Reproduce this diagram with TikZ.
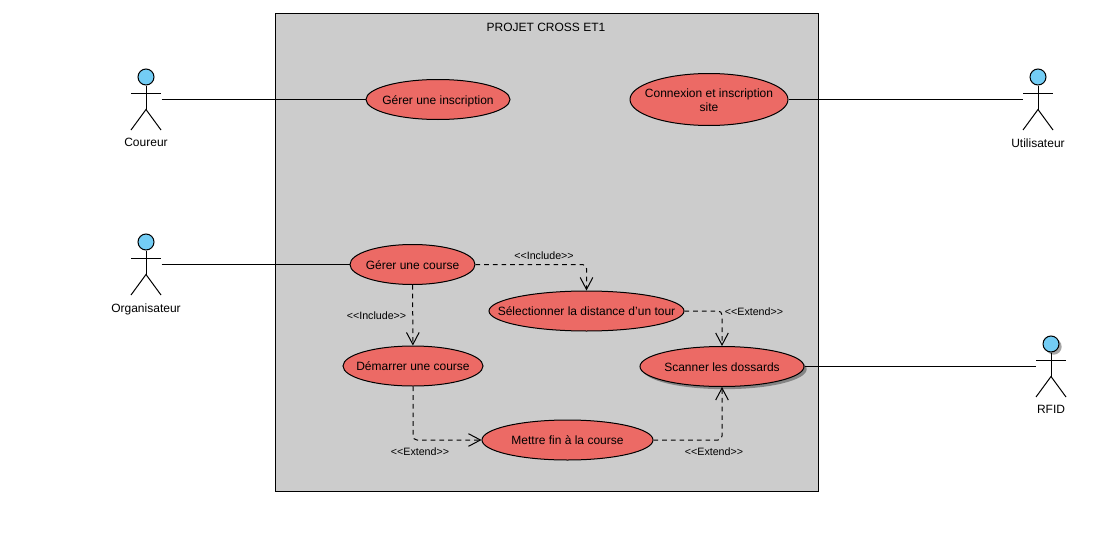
\documentclass[tikz,border=0pt]{standalone}
\usepackage{fontspec}
\setmainfont{Liberation Sans}
\usetikzlibrary{arrows.meta,positioning,shapes.geometric,shadows}
\definecolor{sysgray}{HTML}{CCCCCC}
\definecolor{ucred}{HTML}{EC6A65}
\definecolor{actorblue}{HTML}{73CDF5}
\tikzset{
  usecase/.style={ellipse,draw,fill=ucred,inner sep=0pt,minimum height=30pt,font=\fontsize{9}{10.5}\selectfont},
  actorbox/.style={rectangle,inner sep=0pt,minimum width=22.5pt,minimum height=45.75pt},
  actorhead/.style={circle,draw,fill=actorblue,inner sep=0pt,minimum size=12pt},
  actorlabel/.style={inner sep=0pt,font=\fontsize{9}{10.5}\selectfont},
  steplabel/.style={inner sep=0pt,font=\fontsize{8}{9}\selectfont},
  relation/.style={dashed,dash pattern=on 3.5pt off 3pt,rounded corners=3pt,-{Straight Barb[length=9pt,width=9.5pt]}},
  softshadow/.style={drop shadow={shadow xshift=2pt,shadow yshift=-2pt,fill=black,opacity=0.35}}
}
\newcommand{\uctext}[1]{\raisebox{-3.75pt}[0pt][0pt]{\makebox[0pt]{\begin{tabular}{@{}c@{}}#1\end{tabular}}}}
\newcommand{\stereo}[1]{<{}<#1>{}>}
% name, x, y, label
\newcommand{\actor}[5][]{
  \node[actorbox] (#2) at (#3,#4) {};
  \node[actorhead,#1] (#2head) at (#3,#4-22.5) {};
  \draw (#2head) -- (#3,#4+10);
  \draw (#3-15,#4-6.5) -- (#3+15,#4-6.5);
  \draw (#3-15,#4+30.5) -- (#3,#4+10) -- (#3+15,#4+30.5);
  \node[actorlabel,below=5.5pt of #2] (#2label) {#5};
}
\begin{document}
\begin{tikzpicture}[x=0.75pt,y=-0.75pt,line width=0.75pt]
  \useasboundingbox (0,0) rectangle (1093,539);
  \draw[fill=sysgray] (275,13) rectangle (818,491);
  \node[actorlabel] (title) at (546,27) {PROJET CROSS ET1};

  \node[usecase,minimum width=108pt] (inscription) at (438,99.5) {\uctext{Gérer une inscription}};
  \node[usecase,minimum width=118.5pt,minimum height=39pt] (connexion) at (709,99.5) {\uctext{Connexion et inscription\\site}};
  \node[usecase,minimum width=93.75pt] (course) at (412.5,264.5) {\uctext{Gérer une course}};
  \node[usecase,minimum width=146.25pt] (distance) at (586.5,311) {\uctext{Sélectionner la distance d'un tour}};
  \node[usecase,minimum width=105pt] (demarrer) at (413,366) {\uctext{Démarrer une course}};
  \node[usecase,minimum width=123pt,softshadow] (scanner) at (722,366.5) {\uctext{Scanner les dossards}};
  \node[usecase,minimum width=128.25pt] (fin) at (567.5,440) {\uctext{Mettre fin à la course}};

  \actor{coureur}{146}{99.5}{Coureur}
  \actor{utilisateur}{1038}{99.5}{Utilisateur}
  \actor{organisateur}{146}{264.5}{Organisateur}
  \actor[softshadow]{rfid}{1051}{366.5}{RFID}

  \draw (coureur) -- (inscription);
  \draw (connexion) -- (utilisateur);
  \draw (organisateur) -- (course);
  \draw (scanner) -- (rfid);

  \draw[relation] (course) -| (distance);
  \draw[relation] (course) -- (demarrer);
  \draw[relation] (distance) -| (scanner);
  \draw[relation] (demarrer) |- (fin);
  \draw[relation] (fin) -| (scanner);

  \node[steplabel] (inc1) at (544,255.5) {\stereo{Include}};
  \node[steplabel] (inc2) at (376.5,316) {\stereo{Include}};
  \node[steplabel] (ext1) at (754,312) {\stereo{Extend}};
  \node[steplabel] (ext2) at (420,451.5) {\stereo{Extend}};
  \node[steplabel] (ext3) at (714,451.5) {\stereo{Extend}};
\end{tikzpicture}
\end{document}
